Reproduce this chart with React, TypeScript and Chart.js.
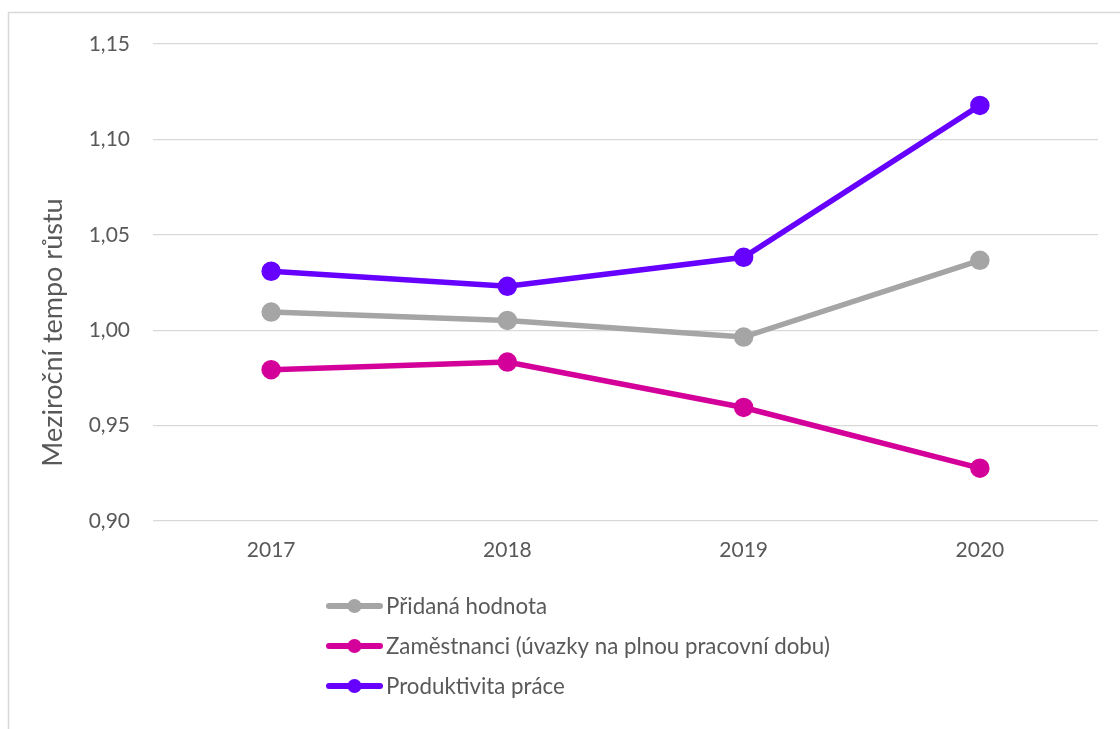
import React, { useEffect, useRef } from "react";
import { Chart, registerables } from "chart.js";

Chart.register(...registerables);

// ---- data ----
const categories = ["2017", "2018", "2019", "2020"];
const pridanaHodnota = [1.0095, 1.0051, 0.9964, 1.0366];
const zamestnanci = [0.9793, 0.9833, 0.9595, 0.9277];
const produktivita = [1.0309, 1.023, 1.0382, 1.1178];
const seriesLabels = [
  "Přidaná hodnota",
  "Zaměstnanci (úvazky na plnou pracovní dobu)",
  "Produktivita práce",
];
const yMin = 0.9;
const yMax = 1.15;
const yStep = 0.05;
const yTitle = "Meziroční tempo růstu";

// ---- styles ----
const colors = ["#a5a5a5", "#d4009a", "#6600ff"];
const FONT = "Lato, 'Noto Sans', sans-serif";
const TEXT = "#595959";
const GRID = "#d9d9d9";
const TICK_SIZE = 21;
const LEGEND_SIZE = 22.3;
const TITLE_SIZE = 27;

const framePlugin = {
  id: "frame",
  beforeDraw(chart: any) {
    const { ctx, width, height } = chart;
    ctx.save();
    ctx.strokeStyle = GRID;
    ctx.lineWidth = 1.5;
    ctx.beginPath();
    ctx.moveTo(8.5, height + 5);
    ctx.lineTo(8.5, 12.5);
    ctx.lineTo(width + 5, 12.5);
    ctx.stroke();
    ctx.restore();
  },
};

const titleLegendPlugin = {
  id: "titleLegend",
  afterDraw(chart: any) {
    const { ctx } = chart;
    ctx.save();
    // y axis title
    ctx.translate(53, 332.5);
    ctx.rotate(-Math.PI / 2);
    ctx.fillStyle = TEXT;
    ctx.font = `${TITLE_SIZE}px ${FONT}`;
    ctx.textAlign = "center";
    ctx.textBaseline = "middle";
    ctx.fillText(yTitle, 0, 0);
    ctx.restore();

    // legend
    ctx.save();
    chart.data.datasets.forEach((ds: any, i: number) => {
      const y = 606 + i * 40;
      ctx.strokeStyle = ds.borderColor;
      ctx.lineWidth = 6;
      ctx.lineCap = "round";
      ctx.beginPath();
      ctx.moveTo(329, y);
      ctx.lineTo(380, y);
      ctx.stroke();
      ctx.fillStyle = ds.borderColor;
      ctx.beginPath();
      ctx.arc(354.5, y, 7, 0, Math.PI * 2);
      ctx.fill();
      ctx.fillStyle = TEXT;
      ctx.font = `${LEGEND_SIZE}px ${FONT}`;
      ctx.textAlign = "left";
      ctx.textBaseline = "middle";
      ctx.fillText(ds.label, 386, y + 1);
    });
    ctx.restore();
  },
};

export default function App() {
  const ref = useRef<HTMLCanvasElement | null>(null);

  useEffect(() => {
    if (!ref.current) return;
    const seriesValues = [pridanaHodnota, zamestnanci, produktivita];
    const chart = new Chart(ref.current, {
      type: "line",
      data: {
        labels: categories,
        datasets: seriesValues.map((vals, i) => ({
          label: seriesLabels[i],
          data: vals,
          borderColor: colors[i],
          backgroundColor: colors[i],
          pointBackgroundColor: colors[i],
          pointBorderColor: colors[i],
          borderWidth: 5.5,
          pointRadius: 7,
          pointHoverRadius: 7,
          tension: 0,
          fill: false,
        })),
      },
      options: {
        animation: false,
        responsive: true,
        maintainAspectRatio: false,
        layout: { padding: { left: 0, right: 22, top: 44, bottom: 148 } },
        plugins: {
          legend: { display: false },
          tooltip: { enabled: false },
        },
        scales: {
          x: {
            offset: true,
            grid: { display: false, drawTicks: false },
            border: { display: false },
            ticks: {
              color: TEXT,
              font: { family: FONT, size: TICK_SIZE },
              padding: 17,
            },
            afterFit(scale: any) {
              scale.height = 60;
            },
          },
          y: {
            min: yMin,
            max: yMax,
            grid: { color: GRID, lineWidth: 1.3, drawTicks: false },
            border: { display: false },
            ticks: {
              stepSize: yStep,
              color: TEXT,
              font: { family: FONT, size: TICK_SIZE },
              padding: 23,
              callback: (v: any) => Number(v).toFixed(2).replace(".", ","),
            },
            afterFit(scale: any) {
              scale.width = 153;
            },
          },
        },
      },
      plugins: [framePlugin, titleLegendPlugin],
    });
    return () => chart.destroy();
  }, []);

  return (
    <div
      style={{
        position: "fixed",
        left: 0,
        top: 0,
        width: 1120,
        height: 729,
        background: "#ffffff",
      }}
    >
      <canvas ref={ref} />
    </div>
  );
}
